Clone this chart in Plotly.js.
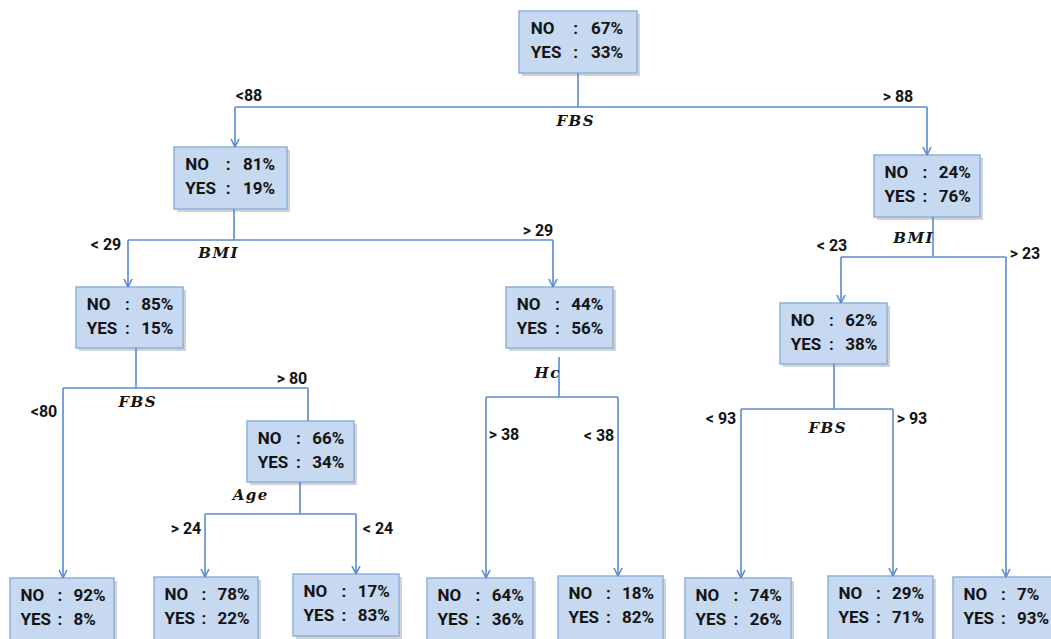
<!DOCTYPE html>
<html><head><meta charset="utf-8">
<script src="https://cdn.plot.ly/plotly-3.0.1.min.js"></script>
<style>html,body{margin:0;padding:0;background:#fff}#chart{width:1051px;height:639px}</style>
</head><body><div id="chart"></div>
<script>
// ---------------- data ----------------
const nodeNames = ['root','L','R','LL','LR','RL','RR','LLL','LLR','LLRL','LLRR','LRL','LRR','RLL','RLR'];
const noPct  = [67, 81, 24, 85, 44, 62, 7, 92, 66, 78, 17, 64, 18, 74, 29];
const yesPct = [33, 19, 76, 15, 56, 38, 93, 8, 34, 22, 83, 36, 82, 26, 71];
const classLabels = ['NO', 'YES'];
const splitNodes    = [0, 1, 2, 3, 4, 5, 8];
const splitFeatures = ['FBS', 'BMI', 'BMI', 'FBS', 'Hc', 'FBS', 'Age'];
const edgeParent = [0, 0, 1, 1, 2, 2, 3, 3, 4, 4, 5, 5, 8, 8];
const edgeChild  = [1, 2, 3, 4, 5, 6, 7, 8, 11, 12, 13, 14, 9, 10];
const edgeLabels = ['<88', '> 88', '< 29', '> 29', '< 23', '> 23', '<80', '> 80', '> 38', '< 38', '< 93', '> 93', '> 24', '< 24'];

// ---------------- layout (pixel positions) ----------------
const boxPos = [
  [519,637,11,73], [174,287,147,209], [874,980,155,217], [76,183,287,348],
  [506,613,287,348], [780,887,303,364], [953,1058,577,650], [10,114,578,650],
  [247,354,421,482], [154,258,577,650], [293,399,574,636], [427,533,578,650],
  [558,663,576,650], [685,791,578,650], [828,933,576,650]
];
// per split: stemX, stemTop, barY, featureLabelX, featureLabelY
const splitPos = [
  [578,73,107,575,122], [234,209,240,218,254], [933,217,257,913,239],
  [136,348,388,137,403], [559,357,397,547,374], [834,364,409,827,429],
  [300,482,514,250,496]
];
// per edge: lineX, labelX, labelY, hasArrow
const edgePos = [
  [235,249,97,1], [927,898,98,1], [128,106,246,1], [553,538,232,1],
  [841,832,247,1], [1006,1025,255,1], [63,44,413,1], [308,292,380,0],
  [486,504,436,1], [618,599,437,1], [741,721,420,1], [893,912,420,1],
  [205,186,530,1], [356,378,530,1]
];

const LINE = '#5b8ad0';
const W = 1051, H = 639;

// connectors
const cx = [], cy = [];
splitNodes.forEach((n, i) => {
  const [sx, st, by] = splitPos[i];
  cx.push(sx, sx, null); cy.push(st, by, null);
  const xs = edgeParent.map((p, k) => p === n ? edgePos[k][0] : null).filter(v => v !== null);
  cx.push(Math.min(...xs), Math.max(...xs), null); cy.push(by, by, null);
});
edgeParent.forEach((p, k) => {
  const by = splitPos[splitNodes.indexOf(p)][2];
  const ex = edgePos[k][0];
  const top = boxPos[edgeChild[k]][2];
  cx.push(ex, ex, null); cy.push(by, top, null);
  if (edgePos[k][3]) {
    cx.push(ex - 4, ex, ex + 4, null); cy.push(top - 8, top, top - 8, null);
  }
});

// shapes: boxes with shadows
const shapes = [];
boxPos.forEach(([x0, x1, y0, y1]) => {
  shapes.push({type:'rect', xref:'x', yref:'y', x0:x0+3, x1:x1+3, y0:y0+3, y1:y1+3,
    fillcolor:'rgba(110,110,110,0.30)', line:{width:0}, layer:'below'});
  shapes.push({type:'rect', xref:'x', yref:'y', x0, x1, y0, y1,
    fillcolor:'#c6d9f1', line:{color:'#8fb1de', width:1.5}, layer:'below'});
});

// box texts
const lx = [], ly = [], lt = [], colx = [], coly = [], colt = [], px = [], py = [], pt = [];
boxPos.forEach(([x0, x1, y0, y1], i) => {
  const w = x1 - x0;
  const vals = [noPct[i], yesPct[i]];
  [0, 1].forEach(r => {
    const yy = y0 + 19 + r * 24;
    lx.push(x0 + 0.1 * w); ly.push(yy); lt.push(classLabels[r]);
    colx.push(x0 + 0.48 * w); coly.push(yy); colt.push(':');
    px.push(x0 + 0.61 * w); py.push(yy); pt.push(vals[r] + '%');
  });
});

const boxFont = {family:'Roboto, sans-serif', size:17, color:'#141414', weight:'bold'};
const condFont = {family:'Roboto, sans-serif', size:16, color:'#141414', weight:'bold'};
const featFont = {family:'DejaVu Serif, Liberation Serif, serif', size:15, color:'#141414', weight:'bold', style:'italic'};

const traces = [
  {x:cx, y:cy, mode:'lines', line:{color:LINE, width:1.6}, hoverinfo:'skip', connectgaps:false},
  {x:lx, y:ly, text:lt, mode:'text', textposition:'middle right', textfont:boxFont, hoverinfo:'skip'},
  {x:colx, y:coly, text:colt, mode:'text', textposition:'middle center', textfont:boxFont, hoverinfo:'skip'},
  {x:px, y:py, text:pt, mode:'text', textposition:'middle right', textfont:boxFont, hoverinfo:'skip'},
  {x:splitPos.map(s => s[3]), y:splitPos.map(s => s[4]), text:splitFeatures.map(f => f.split('').join('\u200A')),
   mode:'text', textposition:'middle center', textfont:featFont, hoverinfo:'skip'},
  {x:edgePos.map(e => e[1]), y:edgePos.map(e => e[2]), text:edgeLabels,
   mode:'text', textposition:'middle center', textfont:condFont, hoverinfo:'skip'}
];

const layout = {
  width:W, height:H, margin:{l:0, r:0, t:0, b:0},
  paper_bgcolor:'#ffffff', plot_bgcolor:'#ffffff', showlegend:false,
  xaxis:{range:[0, W], visible:false, fixedrange:true},
  yaxis:{range:[H, 0], visible:false, fixedrange:true},
  shapes
};
Plotly.newPlot('chart', traces, layout, {staticPlot:true, displayModeBar:false});
</script></body></html>
